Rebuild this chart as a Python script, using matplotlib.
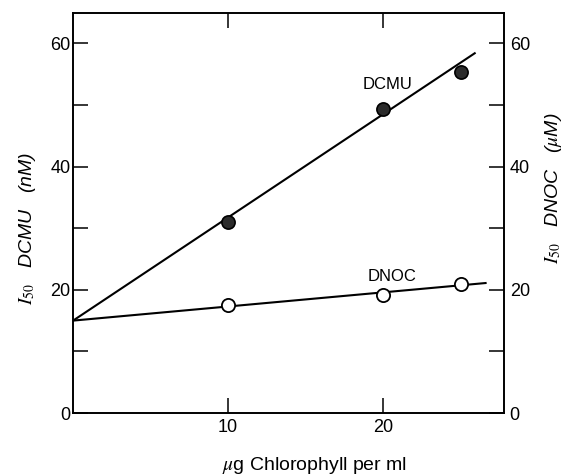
import matplotlib
matplotlib.use("Agg")
import matplotlib.pyplot as plt

plt.rcParams['font.family'] = ['Liberation Sans', 'DejaVu Sans']
plt.rcParams['mathtext.fontset'] = 'stix'

# measured I50 values vs chlorophyll concentration
chl = [10, 20, 25]
dcmu = [31.0, 49.4, 55.4]   # nM
dnoc = [17.6, 19.2, 21.0]   # uM

# fitted lines (end points)
dcmu_fit_x = [0, 25.9]
dcmu_fit_y = [15, 58.4]
dnoc_fit_x = [0, 26.6]
dnoc_fit_y = [15, 21.1]

x_ticks = [10, 20]
x_tick_labels = ['10', '20']
y_ticks = [0, 10, 20, 30, 40, 50, 60]
y_tick_labels = ['0', '', '20', '', '40', '', '60']

fig = plt.figure(figsize=(5.71, 4.75), dpi=100)
ax = fig.add_axes([0.128, 0.1305, 0.755, 0.843])

ax.plot(dcmu_fit_x, dcmu_fit_y, color='black', lw=1.5, zorder=2)
ax.plot(dnoc_fit_x, dnoc_fit_y, color='black', lw=1.5, zorder=2)
ax.plot(chl, dcmu, 'o', ms=9.5, mfc='#2b2b2b', mec='black', mew=1.2, zorder=3)
ax.plot(chl, dnoc, 'o', ms=9.5, mfc='white', mec='black', mew=1.3, zorder=3)

ax.text(20.3, 53.3, 'DCMU', ha='center', va='center', fontsize=12)
ax.text(20.6, 22.2, 'DNOC', ha='center', va='center', fontsize=12)

ax.set_xlim(0, 27.8)
ax.set_ylim(0, 65)
ax.set_xticks(x_ticks)
ax.set_xticklabels(x_tick_labels)
ax.set_yticks(y_ticks)
ax.set_yticklabels(y_tick_labels)
ax.tick_params(axis='both', direction='in', length=11, width=1.1,
               labelsize=13, top=True)
ax.tick_params(axis='y', pad=2)
ax.tick_params(axis='x', pad=4)

ax2 = ax.twinx()
ax2.set_ylim(0, 65)
ax2.set_yticks(y_ticks)
ax2.set_yticklabels(y_tick_labels)
ax2.tick_params(axis='y', direction='in', length=11, width=1.1,
                labelsize=13, pad=4)

for a in (ax, ax2):
    for s in a.spines.values():
        s.set_linewidth(1.2)

ax.set_ylabel(r'$I_{50}$   DCMU   (nM)', fontsize=14, style='italic')
ax.yaxis.set_label_coords(-0.081, 0.46)
ax2.set_ylabel(r'$I_{50}$   DNOC   ($\mu$M)', fontsize=14, style='italic',
               rotation=90)
ax2.yaxis.set_label_coords(1.09, 0.56)
ax.set_xlabel(r'$\mu$g Chlorophyll per ml', fontsize=14)
ax.xaxis.set_label_coords(0.56, -0.105)

fig.savefig('out.png', dpi=100)
